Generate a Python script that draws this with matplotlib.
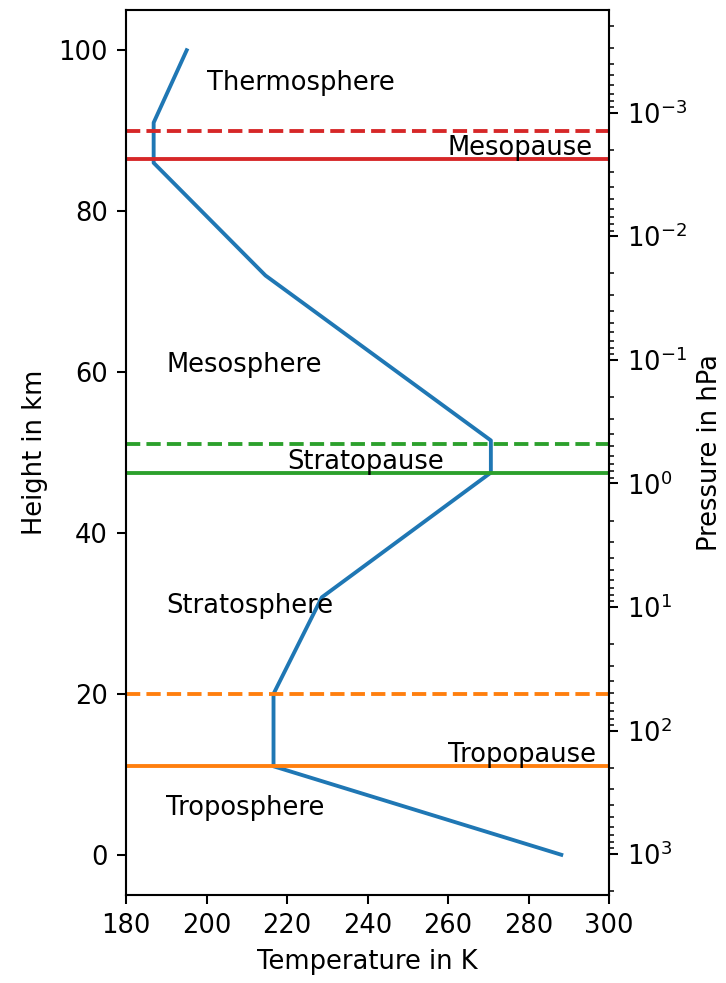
import numpy as np
import matplotlib
matplotlib.use("Agg")
import matplotlib.pyplot as plt

# standard atmosphere temperature profile
heights = [0, 11, 20, 32, 47.5, 51.5, 72, 86, 91, 100]
temps = [288.15, 216.65, 216.65, 228.65, 270.65, 270.65, 214.65, 186.87, 186.87, 195.08]

# boundaries (solid = lower, dashed = upper)
pause_names = ["Tropopause", "Stratopause", "Mesopause"]
pause_low = [11, 47.5, 86.5]
pause_high = [20, 51, 90]
pause_colors = ["C1", "C2", "C3"]

layer_labels = ["Troposphere", "Tropopause", "Stratosphere", "Stratopause",
                "Mesosphere", "Mesopause", "Thermosphere"]
label_x = [190, 260, 190, 220, 190, 260, 200]
label_y = [5, 11.5, 30, 48, 60, 87, 95]

SCALE_H = 6.67
P0 = 1013.25


def pressure(h):
    return P0 * np.exp(-np.asarray(h) / SCALE_H)


DPI = 185
fig = plt.figure(figsize=(726 / DPI, 983 / DPI), dpi=DPI)
ax = fig.add_axes([126 / 726, 1 - 895 / 983, (609 - 126) / 726, (895 - 10) / 983])

ax.plot(temps, heights, color="C0")
for lo, hi, c in zip(pause_low, pause_high, pause_colors):
    ax.axhline(lo, color=c)
    ax.axhline(hi, color=c, ls="--")

for txt, x, y in zip(layer_labels, label_x, label_y):
    ax.text(x, y, txt)

ax.set_xlim(180, 300)
ax.set_ylim(-5, 105)
ax.set_xlabel("Temperature in K")
ax.set_ylabel("Height in km")

ax2 = ax.twinx()
ax2.set_yscale("log")
ax2.set_ylim(pressure(-5), pressure(105))
ax2.set_ylabel("Pressure in hPa")

fig.savefig("out.png", dpi=DPI)
